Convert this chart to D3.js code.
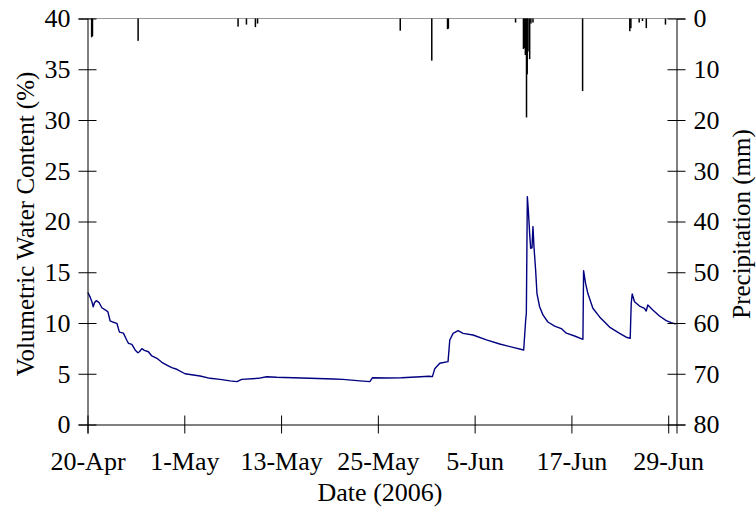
<!DOCTYPE html>
<html>
<head>
<meta charset="utf-8">
<script src="https://d3js.org/d3.v7.min.js"></script>
<style>
  body { margin: 0; background: #fff; }
  text { font-family: "Liberation Serif", "Times New Roman", serif; fill: #000; }
</style>
</head>
<body>
<div id="chart"></div>
<script>
// soil water content, days after 20-Apr-2006 and %
var vwcDay = [0.05, 0.29, 0.53, 0.69, 0.84, 1.05, 1.41, 1.73, 2.13, 2.46, 2.73, 3.13, 3.54, 3.85, 4.33,
  4.74, 4.94, 5.35, 5.74, 6.07, 6.26, 6.55, 6.86, 7.34, 7.75, 8.36, 8.96, 9.56, 10.16, 10.76, 11.76,
  13.57, 14.77, 15.98, 17.18, 18.02, 18.59, 20.59, 21.6, 22.8, 24.8, 26.81, 29.62, 30.79, 32.83, 34.03,
  34.34, 36.0, 37.85, 39.6, 41.2, 41.58, 41.86, 42.46, 43.46, 43.67, 44.07, 44.67, 45.27, 46.47, 48.09,
  49.69, 51.29, 52.58, 52.82, 52.9, 53.02, 53.14, 53.3, 53.42, 53.58, 53.7, 53.82, 54.02, 54.18, 54.5,
  54.9, 55.5, 56.31, 57.11, 57.72, 58.72, 59.72, 59.8, 60.04, 60.32, 60.92, 61.73, 62.93, 64.14, 64.94,
  65.42, 65.54, 65.66, 65.94, 66.54, 67.14, 67.35, 67.54, 68.14, 68.95, 69.76, 70.37, 70.89];
var vwcValue = [13.0, 12.6, 12.1, 11.6, 12.0, 12.2, 12.0, 11.5, 11.3, 11.1, 10.2, 10.07, 9.97, 9.1, 9.0,
  8.3, 8.0, 7.9, 7.35, 7.07, 7.17, 7.47, 7.31, 7.17, 6.75, 6.52, 6.13, 5.86, 5.6, 5.44, 5.0,
  4.78, 4.55, 4.45, 4.3, 4.22, 4.45, 4.55, 4.71, 4.65, 4.6, 4.55, 4.48, 4.45, 4.3, 4.22,
  4.6, 4.58, 4.6, 4.68, 4.75, 4.72, 5.5, 6.03, 6.19, 8.33, 8.98, 9.24, 8.98, 8.82, 8.33,
  7.93, 7.6, 7.34, 10.3, 10.95, 22.45, 21.1, 18.8, 17.36, 17.4, 19.5, 17.5, 15.2, 12.9, 11.6,
  10.8, 10.1, 9.7, 9.45, 9.0, 8.72, 8.39, 15.15, 13.9, 12.9, 11.45, 10.6, 9.6, 8.98, 8.6,
  8.49, 11.9, 12.86, 12.1, 11.67, 11.45, 11.18, 11.77, 11.28, 10.69, 10.23, 10.03, 9.9];

// rainfall, days after 20-Apr-2006 and mm
var rainDay = [0.5, 0.6, 6.1, 18.15, 19.16, 20.24, 20.5, 37.7, 41.5, 43.4, 43.5, 51.6,
  52.55, 52.65, 52.78, 52.92, 53.0, 53.1, 53.3, 53.45, 53.7, 59.68, 65.37, 65.5, 66.5, 66.9, 67.36, 69.67];
var rainMm = [3.7, 3.5, 4.4, 1.6, 1.2, 1.7, 1.0, 2.4, 8.3, 2.1, 2.0, 0.8,
  6.0, 5.8, 7.2, 19.5, 11.0, 6.5, 8.0, 1.0, 0.8, 14.3, 2.5, 1.9, 0.8, 0.5, 1.9, 1.2];

var dateTickDay = [0, 11.667, 23.333, 35, 46.667, 58.333, 70];
var vwcTicks = [0, 5, 10, 15, 20, 25, 30, 35, 40];
var rainTicks = [0, 10, 20, 30, 40, 50, 60, 70, 80];

var W = 756, H = 508;
var plotL = 87.5, plotR = 676.5, plotT = 18.5, plotB = 424.5;
var DAY = 864e5, t0 = Date.UTC(2006, 3, 20);
function toDate(d) { return new Date(t0 + d * DAY); }

var svg = d3.select("#chart").append("svg")
  .attr("width", W).attr("height", H);

var x = d3.scaleUtc().domain([toDate(0), toDate(71)]).range([plotL, plotR]);
var yL = d3.scaleLinear().domain([0, 40]).range([plotB, plotT]);
var yR = d3.scaleLinear().domain([0, 80]).range([plotT, plotB]);

// top frame line
svg.append("line")
  .attr("x1", plotL).attr("x2", plotR).attr("y1", plotT).attr("y2", plotT)
  .attr("stroke", "#999").attr("stroke-width", 1);

// precipitation bars hanging from top
svg.append("g").selectAll("rect")
  .data(rainDay)
  .enter().append("rect")
    .attr("x", function(d) { return x(toDate(d)) - 0.75; })
    .attr("y", plotT)
    .attr("width", 1.5)
    .attr("height", function(d, i) { return yR(rainMm[i]) - plotT; })
    .attr("fill", "#000");

// water content line
var line = d3.line()
  .x(function(d) { return x(toDate(d)); })
  .y(function(d, i) { return yL(vwcValue[i]); });
svg.append("path")
  .datum(vwcDay)
  .attr("d", line)
  .attr("fill", "none")
  .attr("stroke", "#000080")
  .attr("stroke-width", 1.4)
  .attr("stroke-linejoin", "round");

var fs = "26px";
var tk = 9;

// left axis
var gL = svg.append("g").attr("transform", "translate(" + plotL + ",0)")
  .call(d3.axisLeft(yL).tickValues(vwcTicks).tickSize(tk).tickPadding(8));
gL.selectAll(".tick line").attr("x1", tk);

// right axis
var gR = svg.append("g").attr("transform", "translate(" + plotR + ",0)")
  .call(d3.axisRight(yR).tickValues(rainTicks).tickSize(tk).tickPadding(8));
gR.selectAll(".tick line").attr("x1", -tk);

// bottom axis
var gB = svg.append("g").attr("transform", "translate(0," + plotB + ")")
  .call(d3.axisBottom(x).tickValues(dateTickDay.map(toDate))
    .tickFormat(d3.utcFormat("%-d-%b")).tickSize(tk).tickPadding(18));
gB.selectAll(".tick line").attr("y1", -tk);

[gL, gR, gB].forEach(function(g) {
  g.select(".domain").attr("stroke", "#000").attr("stroke-width", 1);
  g.selectAll(".tick line").attr("stroke", "#000");
  g.selectAll("text").style("font-size", fs);
  g.attr("font-family", null).attr("font-size", null);
});

// axis titles
svg.append("text")
  .attr("transform", "translate(25,224) rotate(-90)")
  .attr("text-anchor", "middle").attr("dy", "0.35em")
  .style("font-size", "25px")
  .text("Volumetric Water Content (%)");

svg.append("text")
  .attr("transform", "translate(741,224) rotate(-90)")
  .attr("text-anchor", "middle").attr("dy", "0.35em")
  .style("font-size", "25px")
  .text("Precipitation (mm)");

svg.append("text")
  .attr("x", (plotL + plotR) / 2 - 2).attr("y", 501)
  .attr("text-anchor", "middle")
  .style("font-size", fs)
  .text("Date (2006)");
</script>
</body>
</html>
